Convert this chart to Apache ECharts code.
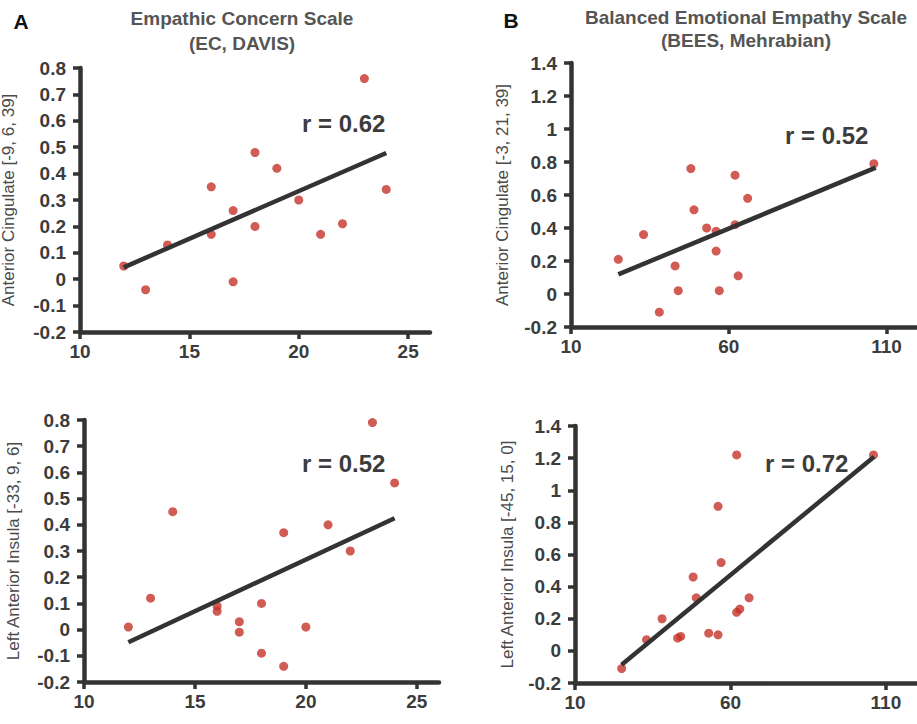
<!DOCTYPE html>
<html><head><meta charset="utf-8">
<script src="https://cdn.jsdelivr.net/npm/echarts@6/dist/echarts.min.js"></script>
<style>html,body{margin:0;padding:0;background:#fff}#c{width:917px;height:724px}</style>
</head><body><div id="c"></div><script>
// Panel A top: Empathic Concern (EC) vs Anterior Cingulate
const ecAccX = [12,13,14,16,16,17,17,18,18,19,20,21,22,23,24];
const ecAccY = [0.05,-0.04,0.13,0.35,0.17,0.26,-0.01,0.48,0.20,0.42,0.30,0.17,0.21,0.76,0.34];
const ecAccFitX = [12,24];
const ecAccFitY = [0.045,0.478];
// Panel A bottom: EC vs Left Anterior Insula
const ecLaiX = [12,13,14,16,16,17,17,18,18,19,19,20,21,22,23,24];
const ecLaiY = [0.01,0.12,0.45,0.09,0.07,0.03,-0.01,0.10,-0.09,0.37,-0.14,0.01,0.40,0.30,0.79,0.56];
const ecLaiFitX = [12,24];
const ecLaiFitY = [-0.048,0.425];
// Panel B top: BEES vs Anterior Cingulate
const beesAccX = [25,33,38,43,44,48,49,53,56,56,57,62,62,63,66,106];
const beesAccY = [0.21,0.36,-0.11,0.17,0.02,0.76,0.51,0.40,0.38,0.26,0.02,0.72,0.42,0.11,0.58,0.79];
const beesAccFitX = [25,106.6];
const beesAccFitY = [0.119,0.766];
// Panel B bottom: BEES vs Left Anterior Insula
const beesLaiX = [25,33,38,43,44,48,49,53,56,56,57,62,62,63,66,106];
const beesLaiY = [-0.11,0.07,0.20,0.08,0.09,0.46,0.33,0.11,0.90,0.10,0.55,1.22,0.24,0.26,0.33,1.22];
const beesLaiFitX = [25,106.2];
const beesLaiFitY = [-0.086,1.209];
// Tick labels
const ecTicks = [10,15,20,25];
const beesTicks = [10,60,110];
const rLabels = ['r = 0.62','r = 0.52','r = 0.52','r = 0.72'];
const yNames = ['Anterior Cingulate [-9, 6, 39]','Left Anterior Insula [-33, 9, 6]','Anterior Cingulate [-3, 21, 39]','Left Anterior Insula [-45, 15, 0]'];

const FONT = "'Liberation Sans', Arial, Helvetica, sans-serif";
const AX = '#333';
const LBL = '#3c3c3c';
const DOT = '#c6322a';

function zip(a,b){return a.map((v,i)=>[v,b[i]]);}

const grids = [
  {left:80, top:68, width:350, height:264},
  {left:84, top:420, width:355, height:262},
  {left:571, top:63, width:347, height:264},
  {left:575, top:426, width:342, height:257}
].map(g=>Object.assign({containLabel:false, outerBoundsMode:'none'}, g));

function xAxis(i, min, max, ticks){
  return {type:'value', gridIndex:i, min:min, max:max,
    splitLine:{show:false},
    axisLine:{show:true, onZero:false, lineStyle:{color:AX, width:4.5}},
    axisTick:{show:true, length:7, lineStyle:{color:AX, width:3.5}, customValues:ticks},
    axisLabel:{color:LBL, fontSize:19, fontWeight:'bold', fontFamily:FONT, margin:10, customValues:ticks}
  };
}
function yAxis(i, min, max, interval, name, gap){
  return {type:'value', gridIndex:i, min:min, max:max, interval:interval,
    name:name, nameLocation:'middle', nameGap:gap, nameRotate:90,
    nameTextStyle:{color:'#4a4a4a', fontSize:17, fontFamily:FONT},
    splitLine:{show:false},
    axisLine:{show:true, onZero:false, lineStyle:{color:AX, width:4.5}},
    axisTick:{show:true, length:7, lineStyle:{color:AX, width:3.5}},
    axisLabel:{color:LBL, fontSize:19, fontWeight:'bold', fontFamily:FONT, margin:14,
      formatter:v=>{const r=Math.round(v*10)/10; return String(r);}}
  };
}

function scat(i, xs, ys){
  return {type:'scatter', xAxisIndex:i, yAxisIndex:i, data:zip(xs,ys), symbolSize:9,
    itemStyle:{color:DOT}, z:2, silent:true};
}
function fit(i, xs, ys){
  return {type:'line', xAxisIndex:i, yAxisIndex:i, data:zip(xs,ys), symbol:'none',
    lineStyle:{color:AX, width:4.5}, z:3, silent:true};
}

function txt(x, y, text, size, weight, color, align){
  return {type:'text', x:x, y:y, style:{text:text, fill:color, font: weight+' '+size+'px '+FONT,
    textAlign:align||'center', textVerticalAlign:'middle'}};
}

const option = {
  backgroundColor:'#fff',
  animation:false,
  grid: grids,
  xAxis: [xAxis(0,10,26,ecTicks), xAxis(1,10,26,ecTicks), xAxis(2,10,120,beesTicks), xAxis(3,10,120,beesTicks)],
  yAxis: [yAxis(0,-0.2,0.8,0.1,yNames[0],63), yAxis(1,-0.2,0.8,0.1,yNames[1],62),
          yAxis(2,-0.2,1.4,0.2,yNames[2],60), yAxis(3,-0.2,1.4,0.2,yNames[3],59)],
  series: [
    scat(0, ecAccX, ecAccY), fit(0, ecAccFitX, ecAccFitY),
    scat(1, ecLaiX, ecLaiY), fit(1, ecLaiFitX, ecLaiFitY),
    scat(2, beesAccX, beesAccY), fit(2, beesAccFitX, beesAccFitY),
    scat(3, beesLaiX, beesLaiY), fit(3, beesLaiFitX, beesLaiFitY)
  ],
  graphic: [
    txt(21, 21, 'A', 21, 'bold', '#111'),
    txt(511, 20, 'B', 21, 'bold', '#111'),
    txt(242, 18, 'Empathic Concern Scale', 19, 'bold', '#555'),
    txt(242, 43, '(EC, DAVIS)', 19, 'bold', '#555'),
    txt(746, 17, 'Balanced Emotional Empathy Scale', 19, 'bold', '#555'),
    txt(746, 40, '(BEES, Mehrabian)', 19, 'bold', '#555'),
    txt(302, 123, rLabels[0], 24, 'bold', '#3c3c3c', 'left'),
    txt(302, 463, rLabels[1], 24, 'bold', '#3c3c3c', 'left'),
    txt(785, 135, rLabels[2], 24, 'bold', '#3c3c3c', 'left'),
    txt(765, 463, rLabels[3], 24, 'bold', '#3c3c3c', 'left')
  ]
};
const chart = echarts.init(document.getElementById('c'), null, {renderer:'svg'});
chart.setOption(option);
</script></body></html>
